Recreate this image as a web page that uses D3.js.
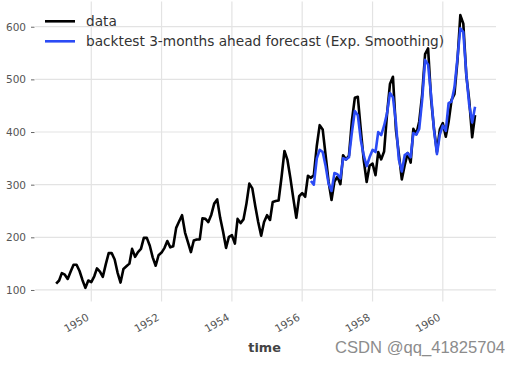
<!DOCTYPE html>
<html><head><meta charset="utf-8">
<script src="https://cdn.jsdelivr.net/npm/d3@7"></script>
<style>body{margin:0;background:#fff}svg{display:block}</style></head>
<body>
<svg id="c" width="520" height="365"></svg>
<script>
const startYear = 1949;
const passengers = [
  112,118,132,129,121,135,148,148,136,119,104,118,
  115,126,141,135,125,149,170,170,158,133,114,140,
  145,150,178,163,172,178,199,199,184,162,146,166,
  171,180,193,181,183,218,230,242,209,191,172,194,
  196,196,236,235,229,243,264,272,237,211,180,201,
  204,188,235,227,234,264,302,293,259,229,203,229,
  242,233,267,269,270,315,364,347,312,274,237,278,
  284,277,317,313,318,374,413,405,355,306,271,306,
  315,301,356,348,355,422,465,467,404,347,305,336,
  340,318,362,348,363,435,491,505,404,359,310,337,
  360,342,406,396,420,472,548,559,463,407,362,405,
  417,391,419,461,472,535,622,606,508,461,390,432
];
const forecastStartYear = 1956, forecastStartMonth = 3; // April 1956
const forecast = [
  307,300,350,366,362,335,302,288,322,
  320,312,350,348,352,400,440,432,385,356,335,352,
  366,362,400,394,412,436,474,466,418,348,325,356,
  360,352,398,395,406,462,537,528,470,405,358,395,
  412,402,455,458,485,540,597,590,510,452,418,448
];
const xTickYears = [1950,1952,1954,1956,1958,1960];
const yTicks = [100,200,300,400,500,600];
const legendLabels = ["data","backtest 3-months ahead forecast (Exp. Smoothing)"];
const seriesColors = ["#000000","#2b4bf5"];
const xLabel = "time";
const watermark = "CSDN @qq_41825704";

const svg = d3.select("#c");
const dataPts = passengers.map((v,i)=>({d:new Date(Date.UTC(startYear,i,1)),v}));
const fcPts = forecast.map((v,i)=>({d:new Date(Date.UTC(forecastStartYear,forecastStartMonth+i,1)),v}));

const t0 = dataPts[0].d.getTime(), t1 = dataPts[dataPts.length-1].d.getTime();
const tm = (t1-t0)*0.05;
const all = passengers.concat(forecast);
const vmin = d3.min(all), vmax = d3.max(all), vm = (vmax-vmin)*0.05;

const L=35.2, R=496, T=1.5, B=301.5;
const x = d3.scaleUtc().domain([new Date(t0-tm), new Date(t1+tm)]).range([L,R]);
const y = d3.scaleLinear().domain([vmin-vm, vmax+vm]).range([B,T]);

// grid
const g = svg.append("g");
g.selectAll(".vg").data(xTickYears).join("line")
  .attr("x1",d=>x(new Date(Date.UTC(d,0,1)))).attr("x2",d=>x(new Date(Date.UTC(d,0,1))))
  .attr("y1",T).attr("y2",B).attr("stroke","#e3e3e3").attr("stroke-width",1.2);
g.selectAll(".hg").data(yTicks).join("line")
  .attr("x1",L).attr("x2",R).attr("y1",d=>y(d)).attr("y2",d=>y(d))
  .attr("stroke","#e3e3e3").attr("stroke-width",1.2);

// y axis
const yAxis = d3.axisLeft(y).tickValues(yTicks).tickSize(3.5).tickPadding(5);
const ya = svg.append("g").attr("transform",`translate(${L-0.7},0)`).call(yAxis);
ya.select(".domain").remove();
ya.selectAll("line").attr("stroke","#555").attr("stroke-width",0.9);
ya.selectAll("text").attr("fill","#555").attr("font-family","DejaVu Sans").attr("font-size",10.5);

// x axis
const xAxis = d3.axisBottom(x).tickValues(xTickYears.map(yy=>new Date(Date.UTC(yy,0,1)))).tickFormat(d3.utcFormat("%Y")).tickSize(0);
const xa = svg.append("g").attr("transform",`translate(0,${B})`).call(xAxis);
xa.select(".domain").remove();
xa.selectAll("text").attr("fill","#555").attr("font-family","DejaVu Sans").attr("font-size",10.5)
  .attr("text-anchor","end").attr("dy",null).attr("y",null)
  .attr("transform","translate(-2,18) rotate(-30)");

// lines
const line = d3.line().x(d=>x(d.d)).y(d=>y(d.v));
svg.append("path").datum(dataPts).attr("d",line).attr("fill","none")
  .attr("stroke",seriesColors[0]).attr("stroke-width",2.6).attr("stroke-linejoin","round");
svg.append("path").datum(fcPts).attr("d",line).attr("fill","none")
  .attr("stroke",seriesColors[1]).attr("stroke-width",2.6).attr("stroke-linejoin","round");

// legend
const lg = svg.append("g");
legendLabels.forEach((lab,i)=>{
  const yy = 21.3 + i*20;
  lg.append("line").attr("x1",45).attr("x2",75).attr("y1",yy).attr("y2",yy)
    .attr("stroke",seriesColors[i]).attr("stroke-width",2.6);
  lg.append("text").attr("x",86).attr("y",yy+4.7).text(lab)
    .attr("font-family","DejaVu Sans").attr("font-size",13.7).attr("fill","#333");
});

// x label
svg.append("text").attr("x",(L+R)/2 - 1).attr("y",351.5).attr("text-anchor","middle")
  .attr("font-family","DejaVu Sans").attr("font-weight","bold").attr("font-size",12.8)
  .attr("fill","#444").text(xLabel);

// watermark
svg.append("text").attr("x",335).attr("y",352.5).attr("font-family","Liberation Sans")
  .attr("font-size",16.6).attr("fill","#8c8c8c").text(watermark);
</script>
</body></html>
